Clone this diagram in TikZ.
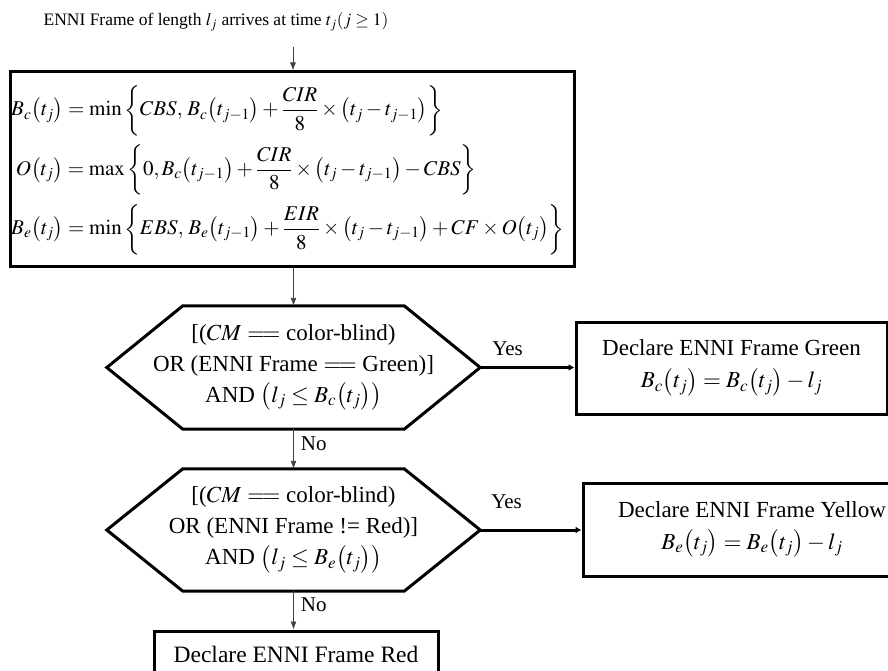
\documentclass[tikz,border=0pt]{standalone}
\usepackage{mathptmx}
\usepackage{fontspec}
\setmainfont{Liberation Serif}
\usetikzlibrary{arrows.meta,calc}
\begin{document}
\begin{tikzpicture}[x=1pt,y=-1pt,
  every node/.style={font=\fontsize{23}{30}\selectfont},
  thickbox/.style={draw=black,line width=3pt,inner sep=0pt},
  thinarrow/.style={draw=black!75,line width=0.9pt,-{Latex[length=8pt,width=6pt]}},
  yesarrow/.style={draw=black,line width=3pt,-{Latex[length=6pt,width=7pt]}},
  hexnode/.style={inner sep=0pt,minimum width=373pt,minimum height=123pt,align=center,font=\fontsize{23}{31}\selectfont},
  lbl/.style={inner sep=1pt,font=\fontsize{21}{24}\selectfont}
]
\useasboundingbox (0,0) rectangle (888,671);
\clip (0,0) rectangle (888,671);

% title
\node[font=\fontsize{17.5}{21}\selectfont] (title) at (216,22) {ENNI Frame of length $l_j$ arrives at time $t_j(j\ge 1)$};
\coordinate (tstart) at (293,47);

% big equation box
\node[thickbox,minimum width=564pt,minimum height=194pt] (box) at (292,169) {};
\node[anchor=west,inner sep=0pt,align=left,font=\fontsize{21}{25}\selectfont] (eqs) at (11,170) {%
$\displaystyle B_c\bigl(t_j\bigr)=\min\left\{CBS,\,B_c\bigl(t_{j-1}\bigr)+\frac{CIR}{8}\times\bigl(t_j-t_{j-1}\bigr)\right\}$\\[8pt]
$\displaystyle\;O\bigl(t_j\bigr)=\max\left\{0,B_c\bigl(t_{j-1}\bigr)+\frac{CIR}{8}\times\bigl(t_j-t_{j-1}\bigr)-CBS\right\}$\\[8pt]
$\displaystyle B_e\bigl(t_j\bigr)=\min\left\{EBS,\,B_e\bigl(t_{j-1}\bigr)+\frac{EIR}{8}\times\bigl(t_j-t_{j-1}\bigr)+CF\times O\bigl(t_j\bigr)\right\}$};

% hexagon 1
\node[hexnode] (h1) at (293.5,367.5) {[($CM$ $=\!=$ color-blind)\\ OR (ENNI Frame $=\!=$ Green)]\\ AND $\bigl(l_j\le B_c\bigl(t_j\bigr)\bigr)$};
\draw[line width=3pt,line join=miter] (h1.west) -- ([xshift=76pt]h1.north west) -- ([xshift=-76pt]h1.north east) -- (h1.east) -- ([xshift=-76pt]h1.south east) -- ([xshift=76pt]h1.south west) -- cycle;

% green box
\node[thickbox,minimum width=311pt,minimum height=92pt,align=center,font=\fontsize{23}{32}\selectfont] (green) at (731.5,368) {Declare ENNI Frame Green\\ $B_c\bigl(t_j\bigr)=B_c\bigl(t_j\bigr)-l_j$};

% hexagon 2
\node[hexnode,minimum height=122pt] (h2) at (293.5,530) {[($CM$ $=\!=$ color-blind)\\ OR (ENNI Frame != Red)]\\ AND $\bigl(l_j\le B_e\bigl(t_j\bigr)\bigr)$};
\draw[line width=3pt,line join=miter] (h2.west) -- ([xshift=76pt]h2.north west) -- ([xshift=-76pt]h2.north east) -- (h2.east) -- ([xshift=-76pt]h2.south east) -- ([xshift=76pt]h2.south west) -- cycle;

% yellow box
\node[thickbox,minimum width=338pt,minimum height=93pt,align=center,font=\fontsize{23}{32}\selectfont] (yellow) at (752,529.5) {Declare ENNI Frame Yellow\\ $B_e\bigl(t_j\bigr)=B_e\bigl(t_j\bigr)-l_j$};

% red box
\node[thickbox,minimum width=284pt,minimum height=50pt] (red) at (296,656) {};
\node[font=\fontsize{23.5}{28}\selectfont] (redtext) at (296,654) {Declare ENNI Frame Red};

% connectors
\draw[thinarrow] (tstart) -- (box.north -| tstart);
\draw[thinarrow] (box.south -| h1.north) -- (h1.north);
\draw[thinarrow] (h1.south) -- node[lbl,anchor=west,pos=0.36,xshift=6pt] (no1) {No} (h2.north);
\draw[thinarrow] (h2.south) -- node[lbl,anchor=west,pos=0.36,xshift=6pt] (no2) {No} (red.north -| h2.south);
\draw[yesarrow] (h1.east) -- node[lbl,anchor=south,pos=0.29,yshift=9pt] (yes1) {Yes} (green.west |- h1.east);
\draw[yesarrow] (h2.east) -- node[lbl,anchor=south,pos=0.26,yshift=19pt] (yes2) {Yes} (yellow.west |- h2.east);
\end{tikzpicture}
\end{document}
